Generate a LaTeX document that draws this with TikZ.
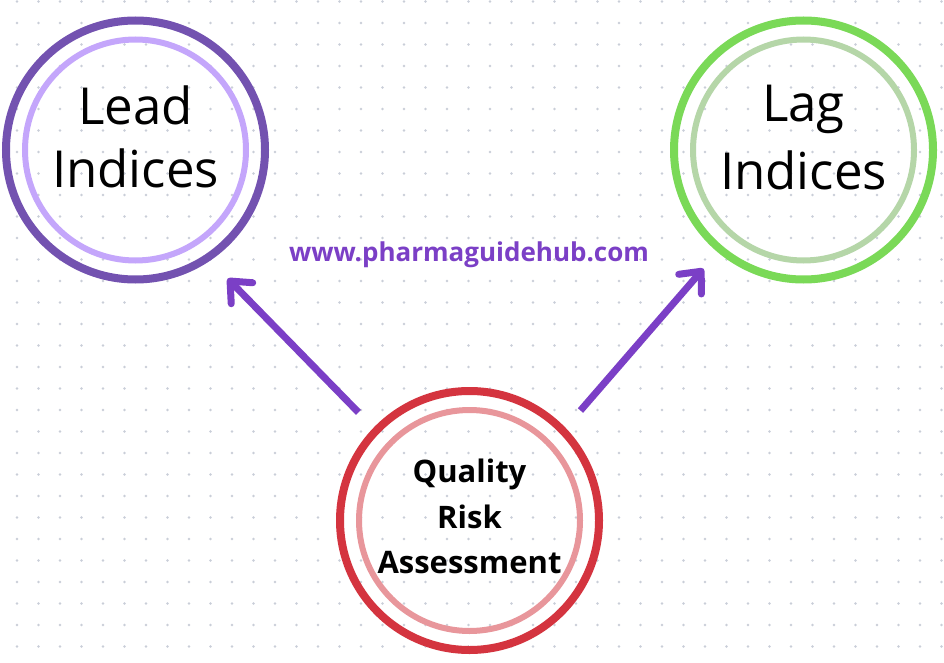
\documentclass[tikz,border=0pt]{standalone}
\usepackage{fontspec}
\setmainfont{Open Sans}
\usetikzlibrary{arrows.meta, positioning}
\definecolor{leadout}{HTML}{7352B0}
\definecolor{leadin}{HTML}{C4A6FB}
\definecolor{lagout}{HTML}{7AD957}
\definecolor{lagin}{HTML}{B5D6A8}
\definecolor{qraout}{HTML}{D4343F}
\definecolor{qrain}{HTML}{E8969B}
\definecolor{urlpurple}{HTML}{7B3FC6}
\definecolor{dotgray}{HTML}{C9CED8}
\tikzstyle{arrow}=[-{Straight Barb[length=17pt, width=30pt, round]}, line width=7pt, color=urlpurple]

\begin{document}
\begin{tikzpicture}[x=1pt, y=-1pt,
  ring/.style={circle, line width=8pt, minimum size=259pt, inner sep=0pt},
  innerring/.style={line width=6pt},
  bigtext/.style={align=center, inner sep=0pt, font=\fontsize{51}{63}\selectfont},
  qratext/.style={align=center, inner sep=0pt, font=\fontsize{31}{45.5}\selectfont\bfseries}
]
\useasboundingbox (0,0) rectangle (944,663);
\fill[white] (0,0) rectangle (944,663);
% dotted paper
\foreach \i in {0,...,43}
  \foreach \j in {0,...,30}
    \fill[dotgray] (17+21.5*\i, 1.5+21.5*\j) circle (1.3pt);

% rings
\node[ring, draw=leadout] (lead) at (135.5,150) {};
\draw[innerring, leadin] (lead.center) circle (110.5pt);
\node[ring, draw=lagout] (lag) at (803.5,150) {};
\draw[innerring, lagin] (lag.center) circle (110.5pt);
\node[ring, draw=qraout] (qra) at (469.5,520.5) {};
\draw[innerring, qrain] (qra.center) circle (110.5pt);

% texts
\node[bigtext, anchor=north] (leadtxt) at (135.5,86) {Lead\\Indices};
\node[bigtext, anchor=north, font=\fontsize{51}{68}\selectfont] (lagtxt) at (803.5,85) {Lag\\Indices};
\node[qratext, anchor=north] (qratxt) at (469.5,459) {Quality\\Risk\\Assessment};
\node[font=\fontsize{26}{30}\selectfont\bfseries, text=urlpurple, inner sep=0pt] (url) at (469,255) {www.pharmaguidehub.com};

% arrows
\draw[arrow, shorten <=21.5pt, shorten >=25pt] (qra.136) -- (lead.-56.5);
\draw[arrow, shorten <=22.8pt, shorten >=21.7pt] (qra.44) -- (lag.230.6);
\end{tikzpicture}
\end{document}
